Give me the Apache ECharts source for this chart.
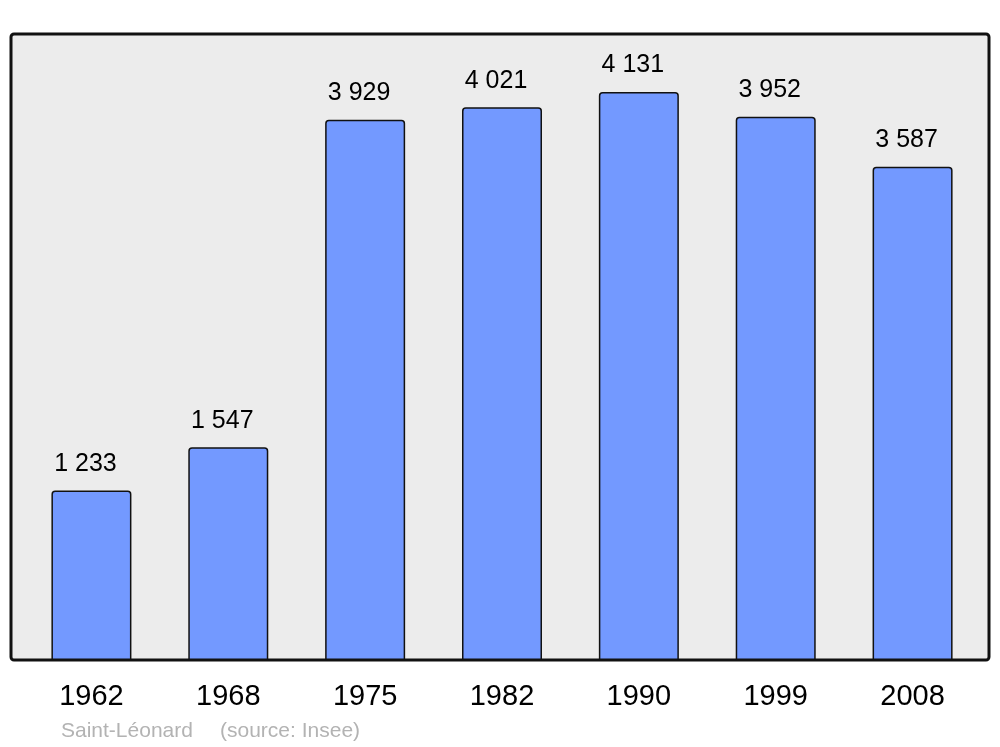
<!DOCTYPE html>
<html>
<head>
<meta charset="utf-8">
<script src="https://cdn.jsdelivr.net/npm/echarts@6/dist/echarts.min.js"></script>
<style>
  html, body { margin: 0; padding: 0; background: #fff; }
  #chart { width: 1000px; height: 747px; }
</style>
</head>
<body>
<div id="chart"></div>
<script>
const years = ['1962', '1968', '1975', '1982', '1990', '1999', '2008']
const population = [1233, 1547, 3929, 4021, 4131, 3952, 3587]
const placeName = 'Saint-Léonard'
const sourceText = '(source: Insee)'

const fontFamily = '"Liberation Sans", Arial, sans-serif'

function fmt (v) {
  return String(v).replace(/\B(?=(\d{3})+(?!\d))/g, ' ')
}

const chart = echarts.init(document.getElementById('chart'))

const option = {
  animation: false,
  backgroundColor: '#ffffff',
  grid: {
    left: 23,
    right: 19,
    top: 34,
    bottom: 87
  },
  graphic: [
    {
      type: 'rect',
      z: -10,
      shape: { x: 11, y: 34, width: 978, height: 626, r: 3 },
      style: { fill: '#ececec', stroke: '#111111', lineWidth: 3 }
    },
    {
      type: 'text',
      left: 61,
      top: 721,
      style: { text: placeName, fill: '#b3b3b3', font: '21px ' + fontFamily }
    },
    {
      type: 'text',
      left: 220,
      top: 721,
      style: { text: sourceText, fill: '#b3b3b3', font: '21px ' + fontFamily }
    }
  ],
  xAxis: {
    type: 'category',
    data: years,
    axisLine: { show: false },
    axisTick: { show: false },
    axisLabel: {
      margin: 22,
      fontSize: 29,
      color: '#000',
      fontFamily: fontFamily
    }
  },
  yAxis: {
    type: 'value',
    min: 0,
    max: 4553,
    show: false,
    splitLine: { show: false }
  },
  series: [
    {
      type: 'bar',
      data: population,
      barWidth: 80,
      itemStyle: {
        color: '#7399ff',
        borderColor: '#111111',
        borderWidth: 1.5,
        borderRadius: [3, 3, 0, 0]
      },
      label: {
        show: true,
        position: 'top',
        distance: 14,
        offset: [-6, 0],
        fontSize: 25,
        color: '#000',
        fontFamily: fontFamily,
        formatter: p => fmt(p.value)
      }
    }
  ]
}

chart.setOption(option)
</script>
</body>
</html>
